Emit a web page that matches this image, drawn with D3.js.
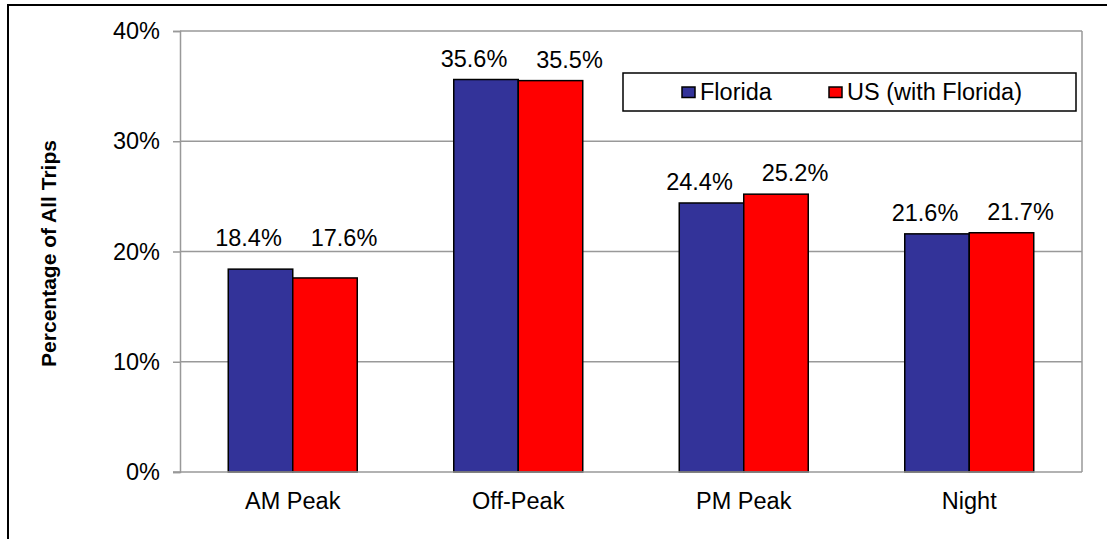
<!DOCTYPE html>
<html>
<head>
<meta charset="utf-8">
<script src="https://cdn.jsdelivr.net/npm/d3@7"></script>
<style>
  html, body { margin: 0; padding: 0; background: #fff; }
  svg { display: block; font-family: "Liberation Sans", Arial, sans-serif; }
</style>
</head>
<body>
<svg id="chart" width="1109" height="539"></svg>
<script>
// Share of trips by time of day
const categories = ["AM Peak", "Off-Peak", "PM Peak", "Night"];
const seriesNames = ["Florida", "US (with Florida)"];
const floridaValues = [18.4, 35.6, 24.4, 21.6];
const usValues = [17.6, 35.5, 25.2, 21.7];
const yTicks = [0, 10, 20, 30, 40];
const colors = ["#333399", "#FF0000"];

const series = [floridaValues, usValues];

const svg = d3.select("#chart");
const W = 1109, H = 539;
const plot = { left: 180, right: 1082, top: 31, bottom: 472 };
const fontSize = 23.5;

// outer frame (top and left edges visible)
svg.append("path")
  .attr("d", `M8,${H} L8,5 L1107,5`)
  .attr("fill", "none")
  .attr("stroke", "#000")
  .attr("stroke-width", 2);

const x0 = d3.scaleBand()
  .domain(categories)
  .range([plot.left, plot.right])
  .paddingInner(0.428)
  .paddingOuter(0.214);
const x1 = d3.scaleBand()
  .domain(d3.range(series.length))
  .range([0, x0.bandwidth()]);
const y = d3.scaleLinear()
  .domain([0, 40])
  .range([plot.bottom, plot.top]);

const gridColor = "#999999";

// horizontal gridlines
svg.append("g")
  .selectAll("line")
  .data(yTicks.filter(t => t > 0))
  .join("line")
  .attr("x1", plot.left).attr("x2", plot.right)
  .attr("y1", d => y(d)).attr("y2", d => y(d))
  .attr("stroke", gridColor)
  .attr("stroke-width", 1.5);

// right edge of plot area
svg.append("line")
  .attr("x1", plot.right).attr("x2", plot.right)
  .attr("y1", plot.top).attr("y2", plot.bottom)
  .attr("stroke", gridColor)
  .attr("stroke-width", 1.5);

// y axis
const yAxis = svg.append("g")
  .attr("transform", `translate(${plot.left},0)`)
  .call(d3.axisLeft(y).tickValues(yTicks).tickFormat(d => d + "%").tickSize(7).tickPadding(13));
yAxis.select(".domain").attr("stroke", gridColor).attr("stroke-width", 1.5);
yAxis.selectAll(".tick line").attr("stroke", gridColor).attr("stroke-width", 1.5);
yAxis.selectAll(".tick text")
  .attr("font-family", "'Liberation Sans', Arial, sans-serif")
  .attr("font-size", fontSize)
  .attr("fill", "#000");

// bars
const groups = svg.append("g")
  .selectAll("g")
  .data(categories)
  .join("g")
  .attr("transform", c => `translate(${x0(c)},0)`);

groups.selectAll("rect")
  .data((c, i) => series.map((s, k) => ({ k, value: s[i] })))
  .join("rect")
  .attr("x", d => x1(d.k))
  .attr("y", d => y(d.value))
  .attr("width", x1.bandwidth())
  .attr("height", d => y(0) - y(d.value))
  .attr("fill", d => colors[d.k])
  .attr("stroke", "#000")
  .attr("stroke-width", 1.5);

// x axis baseline
svg.append("line")
  .attr("x1", plot.left - 7).attr("x2", plot.right)
  .attr("y1", plot.bottom).attr("y2", plot.bottom)
  .attr("stroke", gridColor)
  .attr("stroke-width", 1.5);

// value labels, nudged apart so neighbouring labels do not touch
const labelShift = [-12, 19];
const labelLift = { "AM Peak": 23 };
groups.selectAll("text.val")
  .data((c, i) => series.map((s, k) => ({ c, k, value: s[i] })))
  .join("text")
  .attr("class", "val")
  .attr("x", d => x1(d.k) + x1.bandwidth() / 2 + labelShift[d.k])
  .attr("y", d => {
    if (labelLift[d.c] !== undefined) {
      const top = Math.min(...series.map(s => y(s[categories.indexOf(d.c)])));
      return top - labelLift[d.c];
    }
    return y(d.value) - 13;
  })
  .attr("text-anchor", "middle")
  .attr("font-size", fontSize)
  .attr("fill", "#000")
  .text(d => d.value.toFixed(1) + "%");

// category labels
svg.append("g")
  .selectAll("text")
  .data(categories)
  .join("text")
  .attr("x", c => x0(c) + x0.bandwidth() / 2)
  .attr("y", 509)
  .attr("text-anchor", "middle")
  .attr("font-size", fontSize)
  .attr("fill", "#000")
  .text(c => c);

// y axis title
svg.append("text")
  .attr("transform", `translate(56,${(plot.top + plot.bottom) / 2 + 2}) rotate(-90)`)
  .attr("text-anchor", "middle")
  .attr("font-size", 21)
  .attr("font-weight", "bold")
  .attr("fill", "#000")
  .text("Percentage of All Trips");

// legend
const legend = svg.append("g");
legend.append("rect")
  .attr("x", 623).attr("y", 73)
  .attr("width", 453).attr("height", 38)
  .attr("fill", "#fff")
  .attr("stroke", "#000")
  .attr("stroke-width", 1.5);
const legendX = [682, 829];
const items = legend.selectAll("g.item")
  .data(seriesNames)
  .join("g")
  .attr("class", "item")
  .attr("transform", (d, i) => `translate(${legendX[i]},0)`);
items.append("rect")
  .attr("x", 0).attr("y", 87)
  .attr("width", 13).attr("height", 10.5)
  .attr("fill", (d, i) => colors[i])
  .attr("stroke", "#000")
  .attr("stroke-width", 1.5);
items.append("text")
  .attr("x", 18).attr("y", 100)
  .attr("font-size", fontSize)
  .attr("fill", "#000")
  .text(d => d);
</script>
</body>
</html>
